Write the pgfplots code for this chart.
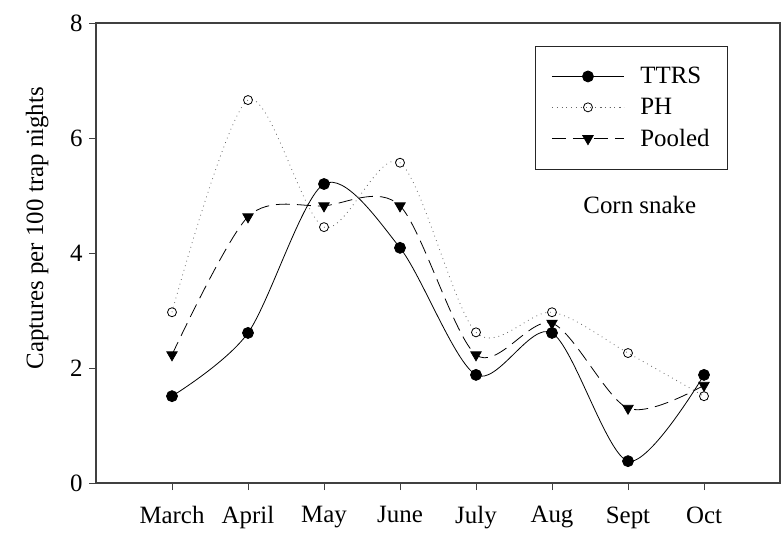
\documentclass[border=0pt]{standalone}
\usepackage{fontspec}
\setmainfont{Liberation Serif}
\usepackage{pgfplots}
\pgfplotsset{compat=1.18}
\begin{document}
\begin{tikzpicture}
\path[use as bounding box] (0bp,0bp) rectangle (782bp,540bp);
\begin{axis}[
  at={(96bp,57bp)}, anchor=south west,
  scale only axis, width=684bp, height=460bp,
  xmin=0, xmax=9, ymin=0, ymax=8,
  xtick={1,...,8},
  xticklabels={March,April,May,June,July,Aug,Sept,Oct},
  ytick={0,2,4,6,8},
  tick align=outside, xtick pos=bottom, ytick pos=left,
  major tick length=7bp,
  tick style={line width=1bp, black!75},
  axis line style={line width=1.2bp, black!75},
  /pgf/number format/assume math mode=true,
  yticklabel style={font=\fontsize{25}{27}\selectfont, xshift=-3bp},
  xticklabel style={font=\fontsize{25}{27}\selectfont, yshift=-13bp},
  ylabel={Captures per 100 trap nights},
  ylabel style={at={(axis description cs:-0.086,0.554)}, anchor=center, font=\fontsize{25}{27}\selectfont},
  legend style={at={(axis description cs:0.642,0.95)}, anchor=north west,
    draw=black!85, line width=0.9bp, font=\fontsize{25}{27}\selectfont,
    inner xsep=16bp, inner ysep=19bp, row sep=9bp,
    nodes={inner sep=2bp},
    /tikz/every odd column/.append style={column sep=14bp}},
  legend cell align=left,
  legend image code/.code={\draw[mark repeat=2,mark phase=2,#1] plot coordinates {(0bp,0bp) (36bp,0bp) (72bp,0bp)};},
]
\addplot[black, line width=0.8bp, smooth, mark=*, mark size=5.5bp, mark options={solid, fill=black}]
  coordinates {(1,1.51) (2,2.61) (3,5.20) (4,4.09) (5,1.88) (6,2.61) (7,0.38) (8,1.88)};
\addplot[black!60, line width=0.8bp, smooth, dash pattern=on 0.8bp off 4bp, mark=o, mark size=4.5bp, mark options={solid, black, fill=white}]
  coordinates {(1,2.97) (2,6.66) (3,4.45) (4,5.57) (5,2.62) (6,2.97) (7,2.26) (8,1.51)};
\addplot[black, line width=0.8bp, smooth, dash pattern=on 14bp off 7bp, mark=triangle*, mark size=6bp, mark options={solid, fill=black, rotate=180}]
  coordinates {(1,2.23) (2,4.63) (3,4.82) (4,4.82) (5,2.23) (6,2.78) (7,1.30) (8,1.70)};
\legend{TTRS,PH,Pooled}
\node[font=\fontsize{25}{27}\selectfont] at (axis description cs:0.795,0.604) {Corn snake};
\end{axis}
\end{tikzpicture}
\end{document}
